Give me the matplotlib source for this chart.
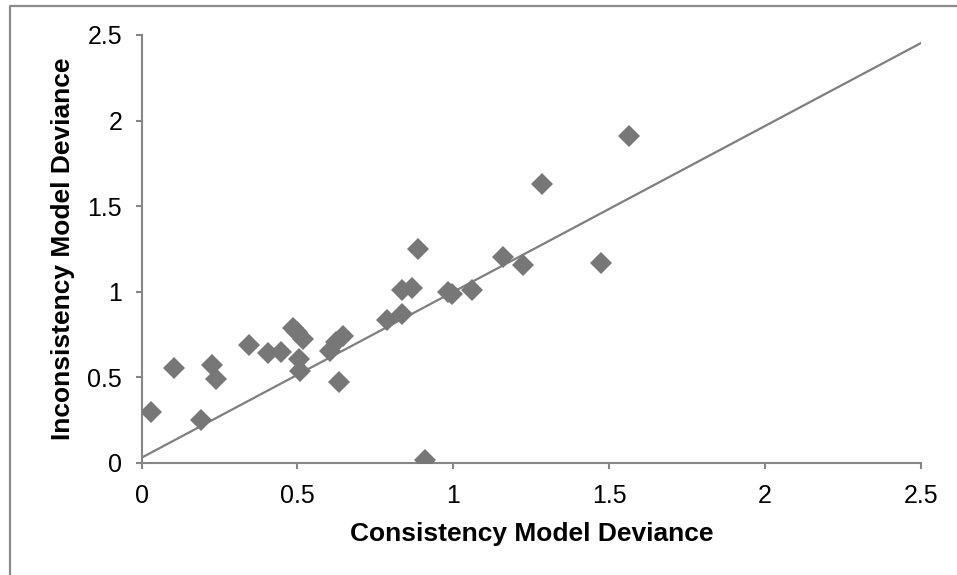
import matplotlib.pyplot as plt
from matplotlib.lines import Line2D

plt.rcParams['font.family'] = ['Liberation Sans', 'DejaVu Sans']

# deviance values
consistency = [0.029, 0.105, 0.19, 0.227, 0.239, 0.346, 0.405, 0.446, 0.485, 0.50,
               0.519, 0.506, 0.508, 0.604, 0.624, 0.647, 0.634, 0.786, 0.834, 0.834,
               0.869, 0.886, 0.909, 0.984, 0.995, 1.061, 1.16, 1.225, 1.283, 1.474,
               1.563]
inconsistency = [0.30, 0.556, 0.25, 0.57, 0.49, 0.69, 0.64, 0.65, 0.79, 0.765,
                 0.725, 0.61, 0.537, 0.653, 0.705, 0.744, 0.473, 0.835, 0.87, 1.01,
                 1.02, 1.25, 0.017, 0.996, 0.99, 1.01, 1.205, 1.157, 1.632, 1.17,
                 1.91]

# trend line end points
trend_x = [0, 2.5]
trend_y = [0.031, 2.453]

ticks = [0, 0.5, 1, 1.5, 2, 2.5]
tick_labels = ['0', '0.5', '1', '1.5', '2', '2.5']


def main():
    W, H = 957, 575
    fig = plt.figure(figsize=(W / 100, H / 100), dpi=100)
    ax = fig.add_axes([141.6 / W, 1 - 463 / H, (920.9 - 141.6) / W, (463 - 35) / H])

    # outer chart frame (left and top edges only, the rest is cut off)
    fx = 9.5 / W
    fy = 1 - 6 / H
    frame = Line2D([fx, fx, 1.0], [0, fy, fy], transform=fig.transFigure,
                   color='#8c8c8c', linewidth=1.6, zorder=10)
    fig.lines.append(frame)

    ax.plot(trend_x, trend_y, color='#7f7f7f', linewidth=1.6, zorder=2)
    ax.plot(consistency, inconsistency, linestyle='none', marker='D',
            markersize=11, color='#777777', markeredgewidth=0, zorder=3)

    ax.set_xlim(0, 2.5)
    ax.set_ylim(0, 2.5)
    ax.set_xticks(ticks)
    ax.set_xticklabels(tick_labels)
    ax.set_yticks(ticks)
    ax.set_yticklabels(tick_labels)

    for side in ['top', 'right']:
        ax.spines[side].set_visible(False)
    for side in ['left', 'bottom']:
        ax.spines[side].set_color('#868686')
        ax.spines[side].set_linewidth(1.5)
    ax.tick_params(direction='out', length=4, width=1.5, color='#868686',
                   labelsize=18)
    ax.tick_params(axis='x', pad=11)
    ax.tick_params(axis='y', pad=10)

    ax.set_xlabel('Consistency Model Deviance', fontsize=19,
                  fontweight='bold', labelpad=10)
    ax.set_ylabel('Inconsistency Model Deviance', fontsize=19,
                  fontweight='bold', labelpad=9)

    fig.savefig('out.png', dpi=100)


if __name__ == "__main__":
    main()
